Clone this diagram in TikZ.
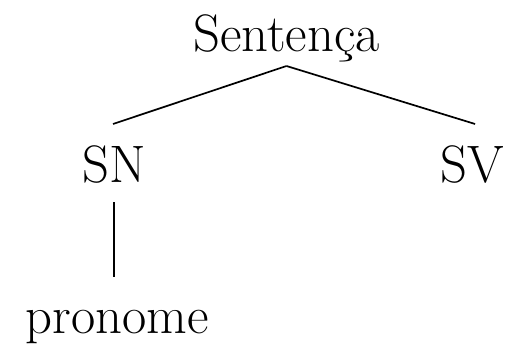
\documentclass[tikz,border=0pt]{standalone}
\begin{document}
\begin{tikzpicture}[x=1pt,y=1pt,
  lbl/.style={inner sep=0pt,anchor=base,font=\fontsize{52.7}{60}\selectfont},
  edge/.style={line width=1.7pt}]
\useasboundingbox (0,0) rectangle (505,343);
\node[lbl] (sent) at (286.5,291) {Sentença};
\node[lbl] (sn) at (114.5,161) {SN};
\node[lbl,anchor=base east] (sv) at (504,161) {SV};
\node[lbl] (pron) at (117,10) {pronome};
\coordinate (apex) at ([yshift=-14pt]sent.base);
\coordinate (snTop) at ([xshift=-1.5pt,yshift=58pt]sn.base);
\coordinate (svTop) at ([xshift=3pt,yshift=58pt]sv.base);
\draw[edge] (apex) -- (snTop);
\draw[edge] (apex) -- (svTop);
\coordinate (snBot) at ([xshift=-0.5pt,yshift=-20pt]sn.base);
\coordinate (pronTop) at ([xshift=-3pt,yshift=56pt]pron.base);
\draw[edge] (snBot) -- (pronTop);
\end{tikzpicture}
\end{document}
